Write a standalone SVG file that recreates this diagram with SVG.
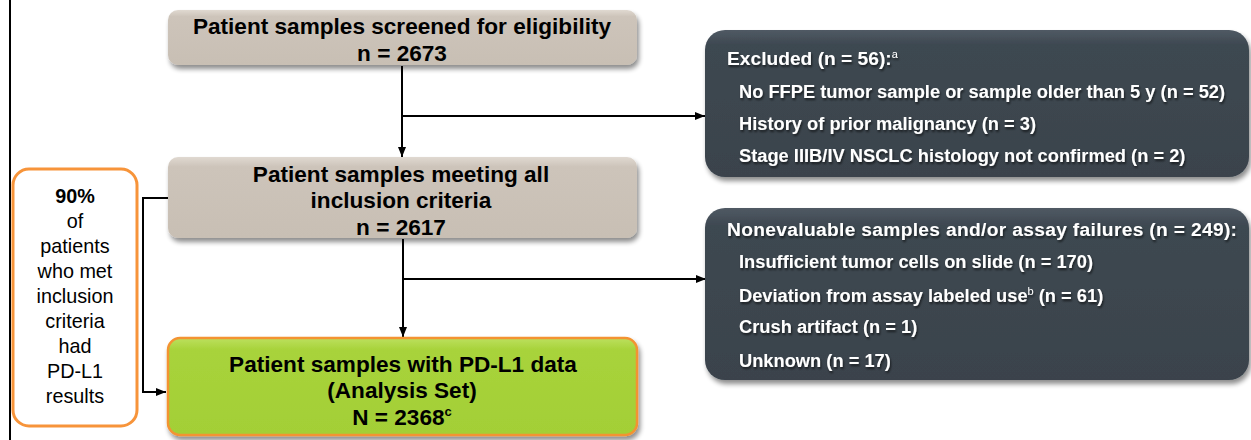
<svg xmlns="http://www.w3.org/2000/svg" width="1251" height="440" viewBox="0 0 1251 440">
  <defs>
    <style>
      .title { font-family: "Liberation Sans", Arial, sans-serif; font-weight: bold; font-size: 22.6px; fill: #000; text-anchor: middle; }
      .dark  { font-family: "Liberation Sans", Arial, sans-serif; font-weight: bold; font-size: 18.3px; fill: #fff; filter: url(#textshadow); }
      .head  { font-size: 19.2px; }
      .side  { font-family: "Liberation Sans", Arial, sans-serif; font-size: 19.8px; fill: #000; text-anchor: middle; }
      .sup   { font-size: 11px; font-weight: normal; }
      .conn  { fill: none; stroke: #000; stroke-width: 2; }
    </style>
    <linearGradient id="beige" x1="0" y1="0" x2="0" y2="1">
      <stop offset="0" stop-color="#e0d9d1"/>
      <stop offset="0.12" stop-color="#cdc4ba"/>
      <stop offset="1" stop-color="#c8bfb4"/>
    </linearGradient>
    <linearGradient id="slate" x1="0" y1="0" x2="0" y2="1">
      <stop offset="0" stop-color="#505a64"/>
      <stop offset="0.1" stop-color="#3e4851"/>
      <stop offset="1" stop-color="#3a434c"/>
    </linearGradient>
    <linearGradient id="lime" x1="0" y1="0" x2="0" y2="1">
      <stop offset="0" stop-color="#bce05e"/>
      <stop offset="0.12" stop-color="#a8d33b"/>
      <stop offset="1" stop-color="#a3cf36"/>
    </linearGradient>
    <filter id="shadow" x="-5%" y="-10%" width="115%" height="130%">
      <feGaussianBlur in="SourceAlpha" stdDeviation="2.5"/>
      <feOffset dx="2" dy="4" result="b"/>
      <feComponentTransfer><feFuncA type="linear" slope="0.45"/></feComponentTransfer>
      <feMerge><feMergeNode/><feMergeNode in="SourceGraphic"/></feMerge>
    </filter>
    <filter id="textshadow" x="-5%" y="-20%" width="110%" height="150%">
      <feGaussianBlur in="SourceAlpha" stdDeviation="0.8"/>
      <feOffset dx="1" dy="1.5"/>
      <feComponentTransfer><feFuncA type="linear" slope="0.6"/></feComponentTransfer>
      <feMerge><feMergeNode/><feMergeNode in="SourceGraphic"/></feMerge>
    </filter>
    <marker id="arrow" viewBox="0 0 10 10" refX="10" refY="5" markerWidth="10" markerHeight="10" markerUnits="userSpaceOnUse" orient="auto">
      <path d="M0,1 L10,5 L0,9 Z" fill="#000"/>
    </marker>
  </defs>

  <rect width="1251" height="440" fill="#fff"/>

  <!-- left rule -->
  <line x1="10" y1="0" x2="10" y2="440" stroke="#000" stroke-width="2"/>

  <g id="connectors">
    <path class="conn" d="M402,66 V157" marker-end="url(#arrow)"/>
    <path class="conn" d="M402,116 H705" marker-end="url(#arrow)"/>
    <path class="conn" d="M403,239 V337" marker-end="url(#arrow)"/>
    <path class="conn" d="M403,279 H706" marker-end="url(#arrow)"/>
    <path class="conn" d="M168,198 H143 V392 H166" marker-end="url(#arrow)"/>
  </g>

  <g id="screened">
    <rect x="168" y="10" width="469" height="55" rx="10" fill="url(#beige)" filter="url(#shadow)"/>
    <text class="title" x="402" y="34">Patient samples screened for eligibility</text>
    <text class="title" x="402" y="61">n = 2673</text>
  </g>

  <g id="eligible">
    <rect x="168" y="157" width="469" height="81" rx="10" fill="url(#beige)" filter="url(#shadow)"/>
    <text class="title" x="401" y="182">Patient samples meeting all</text>
    <text class="title" x="401" y="208">inclusion criteria</text>
    <text class="title" x="401" y="235">n = 2617</text>
  </g>

  <g id="analysis-set">
    <rect x="168" y="338" width="469" height="97" rx="12" fill="url(#lime)" stroke="#f39332" stroke-width="2.5" filter="url(#shadow)"/>
    <text class="title" x="403" y="372">Patient samples with PD-L1 data</text>
    <text class="title" x="402" y="398">(Analysis Set)</text>
    <text class="title" x="402" y="425">N = 2368<tspan font-size="13" dy="-9">c</tspan></text>
  </g>

  <g id="excluded">
    <rect x="705" y="30" width="544" height="147" rx="20" fill="url(#slate)" filter="url(#shadow)"/>
    <text class="dark head" x="727" y="65">Excluded (n = 56):<tspan class="sup" dy="-7">a</tspan></text>
    <text class="dark" x="739" y="98">No FFPE tumor sample or sample older than 5 y (n = 52)</text>
    <text class="dark" x="739" y="130">History of prior malignancy (n = 3)</text>
    <text class="dark" x="739" y="162">Stage IIIB/IV NSCLC histology not confirmed (n = 2)</text>
  </g>

  <g id="nonevaluable">
    <rect x="705" y="208" width="544" height="172" rx="20" fill="url(#slate)" filter="url(#shadow)"/>
    <text class="dark head" x="727" y="236" textLength="510" lengthAdjust="spacing">Nonevaluable samples and/or assay failures (n = 249):</text>
    <text class="dark" x="739" y="268">Insufficient tumor cells on slide (n = 170)</text>
    <text class="dark" x="739" y="302">Deviation from assay labeled use<tspan class="sup" dy="-7">b</tspan><tspan dy="7"> (n = 61)</tspan></text>
    <text class="dark" x="739" y="333">Crush artifact (n = 1)</text>
    <text class="dark" x="739" y="367">Unknown (n = 17)</text>
  </g>

  <g id="summary">
    <rect x="13" y="169" width="124" height="257" rx="16" fill="#fff" stroke="#f7943a" stroke-width="3"/>
    <text class="side" x="75" y="203" font-weight="bold">90%</text>
    <text class="side" x="75" y="228">of</text>
    <text class="side" x="75" y="253">patients</text>
    <text class="side" x="75" y="278">who met</text>
    <text class="side" x="75" y="303">inclusion</text>
    <text class="side" x="75" y="328">criteria</text>
    <text class="side" x="75" y="353">had</text>
    <text class="side" x="75" y="378">PD-L1</text>
    <text class="side" x="75" y="403">results</text>
  </g>
</svg>
